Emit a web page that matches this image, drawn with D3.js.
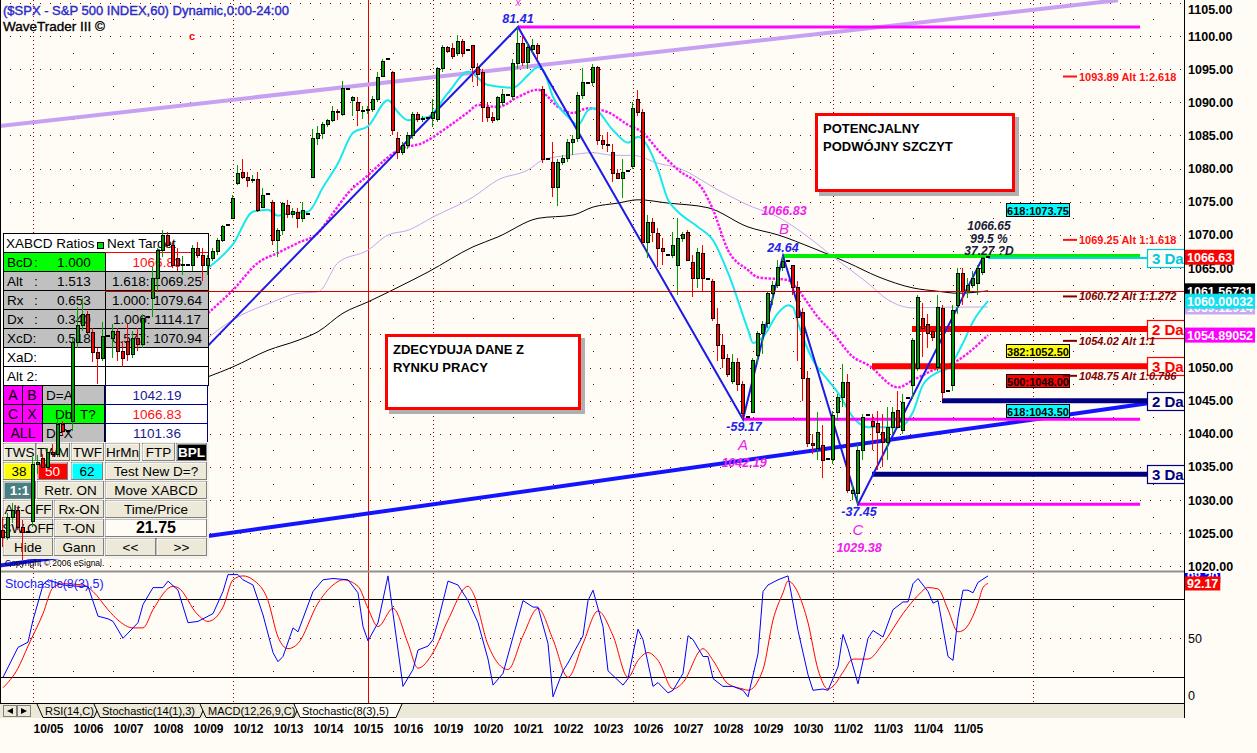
<!DOCTYPE html>
<html><head><meta charset="utf-8">
<script src="https://cdn.jsdelivr.net/npm/d3@7/dist/d3.min.js"></script>
<style>
html,body{margin:0;padding:0;background:#fffcf6;overflow:hidden}
svg{display:block}
text{font-family:Arial,"Liberation Sans",sans-serif}
</style></head>
<body><svg id="chart" width="1257" height="753"></svg>
<script>
// ================= DATA =================
const dayLabels = ["10/02","10/05","10/06","10/07","10/08","10/09","10/12","10/13","10/14","10/15","10/16","10/19","10/20","10/21","10/22","10/23","10/26","10/27","10/28","10/29","10/30","11/02","11/03","11/04","11/05"];
const futureDays = ["11/06","11/09","11/10","11/11","11/12"];
const slotsPerDay = 8;   // 7 hourly bars + 16:00 print
const firstSlot = 1;     // 10/02 starts with its 2nd slot on screen
// hourly bars [open, high, low, close]
const hourlyOHLC = [
 // 10/02
 [1024.5,1026.5,1023.5,1025.5],[1025.5,1027.5,1023.0,1024.5],[1024.5,1028.0,1024.0,1027.5],[1027.5,1029.5,1026.5,1028.5],[1028.5,1029.0,1025.5,1026.0],[1026.0,1027.0,1021.0,1025.2],[1025.2,1025.2,1025.2,1025.2],
 // 10/05
 [1026.9,1036.5,1025.9,1035.5],[1035.5,1036.8,1034.0,1035.8],[1036.3,1037.0,1034.5,1035.0],[1035.0,1037.8,1034.8,1037.3],[1037.3,1038.5,1036.5,1037.0],[1037.0,1042.6,1036.5,1041.5],[1041.5,1042.0,1039.8,1040.5],[1040.5,1040.5,1040.5,1040.5],
 // 10/06
 [1042.0,1054.5,1040.5,1053.8],[1053.8,1059.2,1053.0,1056.4],[1056.4,1060.5,1055.5,1058.0],[1058.0,1058.5,1055.0,1055.4],[1055.4,1056.0,1050.8,1052.3],[1052.3,1053.0,1047.5,1051.4],[1051.4,1056.8,1051.0,1054.7],[1054.7,1054.7,1054.7,1054.7],
 // 10/07
 [1054.5,1056.5,1051.5,1055.5],[1055.5,1056.0,1051.0,1052.5],[1052.5,1054.0,1050.1,1051.5],[1054.0,1056.5,1051.0,1052.0],[1052.0,1055.5,1051.5,1054.5],[1054.5,1056.0,1052.5,1053.5],[1053.5,1058.0,1053.0,1057.5],[1057.6,1057.6,1057.6,1057.6],
 // 10/08
 [1060.5,1065.2,1057.6,1063.5],[1063.5,1068.0,1061.5,1067.7],[1067.7,1070.7,1066.7,1070.0],[1070.0,1070.5,1068.0,1068.5],[1068.5,1069.0,1065.0,1065.5],[1066.5,1068.0,1064.5,1065.5],[1065.5,1066.8,1064.0,1065.6],[1065.5,1065.5,1065.5,1065.5],
 // 10/09
 [1065.5,1068.5,1064.5,1068.0],[1068.0,1069.0,1066.5,1067.0],[1067.0,1068.0,1063.0,1065.5],[1065.5,1067.0,1064.0,1066.5],[1066.5,1068.0,1066.0,1067.5],[1067.5,1069.5,1067.0,1069.2],[1069.2,1071.5,1069.0,1071.4],[1071.5,1071.5,1071.5,1071.5],
 // 10/12
 [1072.5,1076.0,1072.5,1075.5],[1077.8,1080.5,1077.5,1079.3],[1079.5,1081.4,1078.5,1078.8],[1078.8,1079.5,1077.3,1078.3],[1078.3,1079.0,1077.8,1078.5],[1078.5,1079.5,1073.5,1073.8],[1074.2,1077.0,1074.0,1076.0],[1076.2,1076.2,1076.2,1076.2],
 // 10/13
 [1075.0,1075.3,1068.5,1069.2],[1069.2,1071.0,1066.7,1070.7],[1070.7,1075.0,1070.0,1074.8],[1074.5,1075.3,1072.5,1073.2],[1073.2,1074.0,1072.5,1073.6],[1073.5,1074.0,1071.0,1072.6],[1072.6,1075.0,1072.0,1073.8],[1073.2,1073.2,1073.2,1073.2],
 // 10/14
 [1078.7,1086.0,1078.7,1084.6],[1084.6,1086.5,1083.5,1085.3],[1085.3,1087.0,1084.5,1086.8],[1086.8,1087.5,1086.3,1087.3],[1087.3,1089.4,1087.0,1088.7],[1088.7,1089.0,1087.4,1088.5],[1088.3,1093.2,1088.0,1092.2],[1092.0,1092.0,1092.0,1092.0],
 // 10/15
 [1090.4,1091.0,1088.0,1090.8],[1090.0,1090.8,1086.5,1088.8],[1088.8,1089.5,1087.5,1088.9],[1088.9,1089.5,1088.3,1089.0],[1089.0,1091.0,1088.5,1090.5],[1090.5,1094.5,1090.0,1093.8],[1094.0,1096.5,1093.8,1096.2],[1096.5,1096.5,1096.5,1096.5],
 // 10/16
 [1094.6,1094.7,1085.0,1085.8],[1084.6,1085.5,1081.5,1082.5],[1082.5,1084.0,1082.0,1083.5],[1083.5,1085.5,1083.0,1085.0],[1085.0,1088.5,1084.5,1088.3],[1088.3,1088.6,1087.0,1087.5],[1087.5,1088.0,1087.0,1087.7],[1087.7,1087.7,1087.7,1087.7],
 // 10/19
 [1087.7,1090.5,1086.2,1088.5],[1087.5,1095.3,1087.0,1095.2],[1095.2,1098.6,1094.5,1098.3],[1098.3,1098.5,1097.5,1097.8],[1098.2,1099.0,1096.5,1097.0],[1097.5,1100.2,1097.0,1099.2],[1099.2,1099.5,1096.8,1097.5],[1097.9,1097.9,1097.9,1097.9],
 // 10/20
 [1098.6,1098.6,1093.0,1095.3],[1095.3,1096.0,1092.5,1094.2],[1094.6,1095.0,1087.0,1089.3],[1089.3,1090.0,1087.0,1087.8],[1087.8,1088.5,1086.9,1087.3],[1087.5,1091.0,1087.2,1090.8],[1090.0,1092.0,1089.5,1091.3],[1091.1,1091.1,1091.1,1091.1],
 // 10/21
 [1091.0,1096.5,1090.3,1095.9],[1096.0,1101.4,1095.0,1099.0],[1099.0,1100.0,1095.5,1096.1],[1096.1,1099.0,1095.0,1098.3],[1098.0,1099.5,1097.5,1098.7],[1098.7,1099.0,1096.5,1097.5],[1092.0,1092.5,1080.8,1081.4],[1081.4,1081.4,1081.4,1081.4],
 // 10/22
 [1081.0,1084.0,1075.7,1077.2],[1077.2,1081.5,1074.3,1081.0],[1081.0,1082.0,1080.5,1081.6],[1081.6,1084.5,1081.0,1084.0],[1084.0,1085.0,1082.0,1084.5],[1084.6,1091.5,1084.0,1091.1],[1091.1,1095.2,1090.5,1093.0],[1092.9,1092.9,1092.9,1092.9],
 // 10/23
 [1093.0,1095.8,1092.5,1095.3],[1095.3,1095.5,1083.5,1084.3],[1084.3,1085.0,1083.0,1083.7],[1083.7,1085.5,1082.5,1083.5],[1082.5,1083.7,1078.0,1079.3],[1079.3,1080.0,1078.5,1078.6],[1078.6,1081.5,1075.5,1079.5],[1079.6,1079.6,1079.6,1079.6],
 // 10/26
 [1080.4,1090.0,1080.0,1089.1],[1090.5,1091.8,1088.0,1088.5],[1088.5,1089.0,1068.5,1069.0],[1069.0,1073.0,1066.5,1072.0],[1072.0,1072.5,1069.0,1070.5],[1070.3,1071.0,1065.2,1068.0],[1068.0,1069.5,1065.5,1067.5],[1067.0,1067.0,1067.0,1067.0],
 // 10/27
 [1067.0,1070.5,1066.5,1068.5],[1065.5,1072.5,1061.0,1069.5],[1069.5,1070.5,1069.0,1070.2],[1070.4,1070.8,1066.0,1066.2],[1065.9,1067.0,1060.6,1063.5],[1063.5,1068.0,1062.0,1067.4],[1067.2,1068.5,1061.5,1063.5],[1063.4,1063.4,1063.4,1063.4],
 // 10/28
 [1063.0,1063.3,1057.0,1057.5],[1056.5,1059.0,1051.0,1053.4],[1053.4,1055.0,1050.0,1051.5],[1051.5,1052.0,1048.5,1049.0],[1048.0,1052.0,1047.5,1050.8],[1050.8,1051.5,1046.5,1047.5],[1047.5,1048.0,1042.2,1043.1],[1042.6,1042.6,1042.6,1042.6],
 // 10/29
 [1043.3,1051.5,1043.1,1051.1],[1051.9,1055.5,1050.5,1055.2],[1055.2,1057.0,1052.0,1056.5],[1056.7,1061.5,1056.0,1061.2],[1061.2,1063.0,1059.5,1062.5],[1062.5,1066.2,1062.0,1065.2],[1065.2,1066.8,1064.5,1066.1],[1066.1,1066.1,1066.1,1066.1],
 // 10/30
 [1065.4,1065.4,1061.0,1062.1],[1062.1,1063.0,1051.0,1057.6],[1058.4,1059.0,1045.0,1048.4],[1048.4,1049.5,1038.0,1038.6],[1038.6,1040.0,1037.0,1038.3],[1037.9,1043.3,1036.0,1040.3],[1038.3,1041.3,1033.4,1036.0],[1036.2,1036.2,1036.2,1036.2],
 // 11/02
 [1036.2,1043.5,1035.5,1042.8],[1043.3,1046.0,1042.0,1045.5],[1045.5,1050.5,1044.0,1047.8],[1047.8,1049.0,1031.0,1031.5],[1031.0,1032.5,1030.0,1031.6],[1031.0,1038.5,1029.4,1037.6],[1037.6,1043.0,1036.0,1042.5],[1042.9,1042.9,1042.9,1042.9],
 // 11/03
 [1042.0,1043.0,1037.5,1041.2],[1041.6,1043.5,1034.5,1040.3],[1040.3,1043.0,1035.0,1038.8],[1038.8,1044.0,1036.0,1041.0],[1041.0,1044.0,1040.0,1043.3],[1043.6,1046.5,1041.0,1041.1],[1040.6,1046.0,1040.0,1044.8],[1045.4,1045.4,1045.4,1045.4],
 // 11/04
 [1047.3,1054.5,1045.2,1054.1],[1050.0,1061.0,1049.5,1060.6],[1057.4,1059.7,1051.6,1056.0],[1056.6,1058.0,1053.0,1055.2],[1055.5,1056.0,1054.0,1054.6],[1050.1,1061.0,1049.5,1059.1],[1059.0,1059.5,1045.2,1046.3],[1046.5,1046.5,1046.5,1046.5],
 // 11/05
 [1047.3,1059.5,1046.5,1058.7],[1059.5,1065.0,1058.0,1064.3],[1064.3,1065.0,1059.5,1061.5],[1061.5,1063.5,1060.5,1062.5],[1062.5,1064.5,1062.0,1063.5],[1062.7,1065.5,1061.0,1065.0],[1064.4,1066.7,1064.0,1066.5],[1066.63,1066.63,1066.63,1066.63]
];
// moving averages: [bar, price]  (bar 0 = 10/05 first hour)
const maFast = [[35,1065.0],[40,1068.6],[44,1073.5],[47,1073.8],[49,1072.9],[51,1073.2],[55,1073.5],[58,1077.2],[61,1080.8],[64,1085.4],[67,1086.4],[71,1090.3],[73,1088.5],[75,1087.3],[79,1087.8],[83,1091.4],[87,1094.6],[91,1092.6],[96,1092.2],[99,1094.1],[101,1095.3],[102,1094.9],[104,1090.8],[107,1087.8],[109,1086.6],[111,1088.8],[112,1089.1],[116,1085.8],[119,1083.9],[121,1084.8],[123,1083.3],[125,1079.8],[127,1075.3],[129,1073.5],[133,1071.2],[136,1069.2],[139,1064.3],[143,1055.7],[144,1053.7],[146,1054.6],[149,1058.2],[151,1059.4],[152,1059.1],[153,1056.7],[156,1051.1],[159,1048.1],[161,1046.2],[164,1042.5],[167,1041.0],[173,1041.0],[176,1043.3],[178,1047.4],[181,1049.3],[183,1049.9],[186,1053.7],[188,1056.9],[191,1060.0]];
const maMid = [[35,1058.2],[40,1061.7],[45,1065.8],[49,1067.3],[53,1068.8],[57,1070.3],[60,1073.3],[63,1076.3],[67,1079.0],[71,1081.7],[73,1082.8],[78,1083.9],[83,1086.3],[87,1088.5],[89,1089.6],[93,1089.3],[97,1090.8],[101,1091.9],[103,1090.8],[105,1089.3],[108,1088.4],[111,1089.1],[115,1088.5],[119,1086.6],[122,1085.4],[125,1082.8],[129,1079.8],[134,1076.8],[136,1073.8],[139,1067.7],[143,1064.7],[145,1063.6],[151,1063.2],[153,1061.7],[157,1057.6],[160,1055.2],[164,1051.6],[167,1050.4],[173,1047.0],[176,1048.1],[180,1049.6],[185,1051.1],[191,1054.89]];
const maSlow = [[35,1054.5],[40,1057.2],[48,1059.9],[53,1061.2],[57,1061.4],[61,1065.8],[67,1067.7],[71,1070.0],[75,1070.7],[80,1072.7],[88,1075.7],[93,1078.3],[99,1079.8],[102,1081.3],[107,1082.0],[112,1082.4],[116,1082.0],[120,1082.0],[125,1080.8],[129,1080.1],[137,1076.8],[143,1074.5],[149,1072.7],[155,1069.7],[160,1066.7],[167,1062.7],[171,1060.2],[176,1059.0],[183,1059.1],[191,1059.13]];
const maLong = [[35,1048.6],[40,1050.1],[47,1052.6],[53,1054.1],[57,1055.4],[62,1058.2],[67,1059.9],[73,1062.1],[79,1064.4],[88,1068.2],[93,1069.7],[101,1072.5],[108,1073.0],[112,1074.2],[117,1074.8],[121,1075.3],[127,1074.8],[135,1074.1],[143,1071.2],[149,1070.0],[156,1068.0],[163,1065.8],[169,1063.7],[176,1062.0],[181,1061.5],[185,1061.2],[191,1061.57]];
// Stochastic(8(3),5): [bar, value]
const stochK = [[-6,20],[-3,43],[-1,47],[0,64],[2,91],[3,95],[6,91],[9,90],[11,90],[13,67],[15,65],[16,63],[18,50],[20,58],[21,62],[22,76],[24,89],[26,89],[27,94],[29,87],[31,62],[33,63],[34,65],[36,69],[38,86],[39,99],[41,99],[42,95],[44,91],[46,68],[48,39],[49,32],[50,36],[52,58],[53,55],[56,86],[58,95],[60,96],[63,95],[65,85],[66,59],[67,48],[69,62],[71,98],[72,69],[74,13],[76,26],[77,41],[79,44],[80,49],[81,63],[83,94],[85,91],[87,79],[89,62],[91,34],[92,14],[94,23],[98,79],[100,74],[101,74],[103,46],[104,5],[106,25],[107,31],[110,52],[111,79],[112,87],[114,59],[115,25],[118,14],[119,19],[121,57],[122,49],[124,13],[125,16],[127,8],[128,10],[130,23],[131,52],[132,49],[134,36],[135,36],[136,19],[138,13],[140,13],[142,10],[143,5],[145,38],[146,86],[147,91],[149,95],[151,98],[153,56],[155,22],[156,10],[158,11],[159,10],[161,28],[162,53],[163,42],[165,15],[167,50],[168,56],[170,51],[172,72],[174,78],[175,78],[176,92],[177,96],[179,86],[180,77],[181,79],[183,36],[184,33],[185,66],[186,87],[187,87],[188,85],[189,93],[191,98]];
const stochD = [[-6,12],[-3,27],[-1,44],[2,69],[4,89],[6,92],[10,91],[12,86],[15,72],[17,64],[20,58],[22,58],[24,72],[28,90],[29,89],[33,68],[35,63],[38,74],[40,95],[42,98],[44,95],[47,79],[49,51],[51,42],[53,46],[57,77],[60,91],[62,95],[65,90],[67,73],[69,59],[72,73],[75,46],[77,27],[80,39],[83,64],[87,90],[88,85],[91,45],[95,26],[98,52],[101,73],[104,49],[107,20],[110,46],[113,71],[116,52],[119,20],[121,33],[123,39],[125,33],[128,11],[130,16],[134,42],[136,33],[139,15],[142,11],[143,10],[146,26],[148,64],[150,85],[151,94],[153,85],[155,62],[157,26],[159,11],[160,13],[162,24],[164,34],[167,34],[170,46],[174,69],[177,83],[179,89],[181,88],[183,72],[185,55],[186,56],[189,77],[190,89],[191,92.17]];
const priceTicks = [1020,1025,1030,1035,1040,1045,1050,1055,1060,1065,1070,1075,1080,1085,1090,1095,1100,1105];
const stochTicks = [0,50];
const stochLevels = [20,80];
// XABCD pattern: [name, bar, price]
const patternPoints = [["",-6,1021.5],["X",97,1101.36],["A",142,1042.19],["B",150,1066.83],["C",165,1029.38],["D",190,1066.65]];
const swingNames = ["X","A","B","C"];
const swingValues = ["81.41","-59.17","24.64","-37.45"];
const swingPrices = ["","1042.19","1066.83","1029.38"];
const dPointTexts = ["1066.65","99.5 %","37.27 ?D"];
// trendlines [kind, bar1, price1, bar2, price2]
const trendLines = [["upper",-7,1086.4,217,1105.4],["lower",-7,1020.1,223,1044.6]];
// horizontal levels [kind, price, fromBar, toBar, tag]
const levelLines = [["X",1101.36,97,221.4,""],["B",1066.83,150,221.4,""],["A",1042.19,142,221.4,""],["C",1029.38,165,221.4,""],["cur",1066.5,191,222.8,"3 Day"],["red",1055.8,175.8,222.8,"2 Day"],["red",1050.2,167.8,222.8,"3 Day"],["navy",1045.0,181.8,222.8,"2 Day"],["navy",1033.9,167.8,222.8,"3 Day"]];
const fibBoxes = [["618",1073.75,"cyan"],["382",1052.50,"yellow"],["500",1048.00,"red"],["618",1043.50,"cyan"]];
const altTargets = [[1093.89,"Alt 1:2.618","ext"],[1069.25,"Alt 1:1.618","ext"],[1060.72,"Alt 1:1.272","alt"],[1054.02,"Alt 1:1","alt"],[1048.75,"Alt 1:0.786","alt"]];
const lastValues = [[1059.12914,"slow"],[1061.56731,"long"],[1060.00032,"fast"],[1054.89052,"mid"],[1066.63,"close"]];
const stochLast = [[98.2,"k"],[92.17,"d"]];
const markerBar = 67;
const notes = [["POTENCJALNY","PODWÓJNY SZCZYT"],["ZDECYDUJA DANE Z","RYNKU PRACY"]];
const ratioLabels = ["BcD","Alt","Rx","Dx","XcD:","XaD:","Alt 2:"];
const ratioValues = ["1.000","1.513","0.653","0.340","0.518","",""];
const ratioTargets = ["1066.83","1.618: 1069.25","1.000: 1079.64","1.000: 1114.17","0.577: 1070.94","",""];
const pointTargets = ["1042.19","1066.83","1101.36"];
const tabLabels = ["RSI(14,C)","Stochastic(14(1),3)","MACD(12,26,9,C)","Stochastic(8(3),5)"];

// ================= SCALES =================
const svg = d3.select("#chart");
const xS = d3.scaleLinear().domain([-6.6, 230.2]).range([0, 1184]);
const yS = d3.scaleLinear().domain([1019.46, 1105.43]).range([570, 0]);
const sS = d3.scaleLinear().domain([0, 100]).range([703.3, 573.3]);
const barN = i => i + firstSlot - slotsPerDay;
const dayN = k => (k - 1) * slotsPerDay; // first bar of day k (k index in dayLabels)

const defs = svg.append("defs");
function clip(id,x,y,w,h){defs.append("clipPath").attr("id",id).append("rect").attr("x",x).attr("y",y).attr("width",w).attr("height",h);}
clip("cMain",0,0,1184,571); clip("cStoch",0,573,1184,130); clip("cAxis",1185,0,72,571); clip("cStAxis",1185,573,72,130);

function T(g,x,y,s,o){o=o||{};return g.append("text").attr("x",x).attr("y",y).text(s)
 .attr("font-size",o.size||13).attr("font-weight",o.weight||"normal").attr("font-style",o.style||"normal")
 .attr("fill",o.fill||"#000").attr("text-anchor",o.anchor||"start");}
function R(g,x,y,w,h,fill,stroke,sw){return g.append("rect").attr("x",x).attr("y",y).attr("width",w).attr("height",h)
 .attr("fill",fill||"none").attr("stroke",stroke||"none").attr("stroke-width",sw||1);}
function L(g,x1,y1,x2,y2,c,w,dash){const l=g.append("line").attr("x1",x1).attr("y1",y1).attr("x2",x2).attr("y2",y2).attr("stroke",c).attr("stroke-width",w||1);if(dash)l.attr("stroke-dasharray",dash);return l;}

const BG = "#fffcf6";
R(svg,0,0,1257,753,BG);

// ================= GRID =================
const allDays = dayLabels.concat(futureDays);
const dayInfo = allDays.map((lab,k)=>{const [m,d]=lab.split("/").map(Number);return {k, lab, n:dayN(k), monday:new Date(2009,m-1,d).getDay()===1};}).filter(d=>d.k>=1);
const grid = svg.append("g").attr("clip-path","url(#cMain)");
priceTicks.forEach(p=>L(grid,0,Math.round(yS(p))+0.5,1184,Math.round(yS(p))+0.5,"#8b0000",1,"1,9"));
dayInfo.forEach(d=>{
  const x = Math.round(xS(d.n))+0.5;
  if (d.monday) L(grid,x,0,x,571,"#8b0000",1,"1,3");
  else priceTicks.filter(p=>p<1105).forEach(p=>R(grid,x-0.5,Math.round(yS(p+2.5)),1,1,"#8b0000"));
});
const sgrid = svg.append("g").attr("clip-path","url(#cStoch)");
L(sgrid,0,Math.round(sS(50))+0.5,1184,Math.round(sS(50))+0.5,"#8b0000",1,"1,9");
dayInfo.forEach(d=>{
  const x = Math.round(xS(d.n))+0.5;
  if (d.monday) L(sgrid,x,573,x,703,"#8b0000",1,"1,3");
  else [25,75].forEach(v=>R(sgrid,x-0.5,Math.round(sS(v)),1,1,"#8b0000"));
});
stochLevels.forEach(v=>L(sgrid,0,Math.round(sS(v))+0.5,1184,Math.round(sS(v))+0.5,"#000",1));
// marker vertical
L(svg,Math.round(xS(markerBar))+0.5,0,Math.round(xS(markerBar))+0.5,703,"#e00000",1);

// ================= MAIN PLOT LINES =================
const main = svg.append("g").attr("clip-path","url(#cMain)");
trendLines.forEach(t=>{
  L(main,xS(t[1]),yS(t[2]),xS(t[3]),yS(t[4]), t[0]==="upper"?"#c8a0f2":"#1414ff", 4);
});
const maLine = d3.line().x(d=>xS(d[0])).y(d=>yS(d[1])).curve(d3.curveMonotoneX);
main.append("path").attr("d",maLine(maSlow)).attr("fill","none").attr("stroke","#c4a8f0").attr("stroke-width",1);
main.append("path").attr("d",maLine(maLong)).attr("fill","none").attr("stroke","#000").attr("stroke-width",1);
main.append("path").attr("d",maLine(maMid)).attr("fill","none").attr("stroke","#ff10ff").attr("stroke-width",2.4).attr("stroke-dasharray","2.5,1.5");
main.append("path").attr("d",maLine(maFast)).attr("fill","none").attr("stroke","#18e8f0").attr("stroke-width",2);

const levelStyle = {X:["#ff00ff",3],B:["#00ee00",4],A:["#ff00ff",3],C:["#ff00ff",3],cur:["#00d8e8",2],red:["#ff0000",6],navy:["#000080",5]};
levelLines.forEach(l=>{
  const st = levelStyle[l[0]];
  L(main,xS(l[2]),yS(l[1]),xS(l[3]),yS(l[1]),st[0],st[1]);
});
const zig = d3.line().x(d=>xS(d[1])).y(d=>yS(d[2]));
main.append("path").attr("d",zig(patternPoints)).attr("fill","none").attr("stroke","#1c1ce8").attr("stroke-width",2);

// ================= LEFT TABLE =================
const tb = svg.append("g");
const TL=3, TM=105, TR=208;
R(tb,TL+0.5,233.5,TR-TL,19,"#fff","#000");
T(tb,6,247.5,"XABCD Ratios",{size:13.5});
R(tb,97.5,242.5,6,6,"#00dd00","#000");
T(tb,107,247.5,"Next Target",{size:13.5});
ratioLabels.forEach((lab,i)=>{
  const y = 252 + i*19;
  const lf = i===0?"#00ff00":(i<=4?"#c0c0c0":"#fff");
  const rf = i===0?"#fff":(i<=4?"#c0c0c0":"#fff");
  R(tb,TL+0.5,y+0.5,TM-TL,19,lf,"#000");
  R(tb,TM+0.5,y+0.5,TR-TM,19,rf,"#000");
  T(tb,7,y+15,lab,{size:13.5});
  if (i<4) T(tb,34,y+15,":",{size:13.5});
  T(tb,57,y+15,ratioValues[i],{size:13.5});
  T(tb,157,y+15,ratioTargets[i],{size:13.5,anchor:"middle",fill:i===0?"#ff1010":"#000"});
});
L(tb,TM,252.5,TR,252.5,"#ff0000",1);
const prow = [385,404,423];
// row A B
R(tb,3.5,385.5,19,19,"#ff00ff","#000"); R(tb,22.5,385.5,20,19,"#ff00ff","#000");
T(tb,13,400,"A",{size:14,anchor:"middle"}); T(tb,32,400,"B",{size:14,anchor:"middle"});
R(tb,42.5,385.5,62,19,"#c0c0c0","#000"); T(tb,46,400,"D=A",{size:13.5});
// row C X
R(tb,3.5,404.5,19,19,"#ff00ff","#000"); R(tb,22.5,404.5,20,19,"#ff00ff","#000");
T(tb,13,419,"C",{size:14,anchor:"middle"}); T(tb,32,419,"X",{size:14,anchor:"middle"});
R(tb,42.5,404.5,62,19,"#00ff00","#000"); T(tb,55,419,"Db",{size:13.5}); T(tb,80,419,"T?",{size:13.5});
// row ALL
R(tb,3.5,423.5,39,19,"#ff00ff","#000"); T(tb,23,438,"ALL",{size:14,anchor:"middle"});
R(tb,42.5,423.5,62,19,"#c0c0c0","#000"); T(tb,46,438,"D=X",{size:13.5});
pointTargets.forEach((s,i)=>{
  R(tb,TM+0.5,prow[i]+0.5,TR-TM-1,19,"#fff","#000080");
  T(tb,157,prow[i]+15,s,{size:13.5,anchor:"middle",fill:i===1?"#ff1010":"#1a1a8c"});
});
// buttons
const btnRows = [
 [443,[["TWS",3,36],["TWM",36,70],["TWF",71,104],["HrMn",105,140],["FTP",142,175],["BPL",176,207,"#000","#fff",true]]],
 [462,[["38",3,35,"#ffff00"],["50",37,68,"#ff0000","#fff"],["62",71,103,"#00ffff"],["Test New D=?",105,207]]],
 [481,[["1:1",3,36,"#4a7f84","#fff",true],["Retr. ON",37,104],["Move XABCD",105,207]]],
 [500,[["Alt-OFF",3,53],["Rx-ON",54,104],["Time/Price",105,207]]],
 [519,[["SW.OFF",3,53],["T-ON",54,104],["21.75",105,207,"#fffcf6","#000",true,16]]],
 [538,[["Hide",3,53],["Gann",54,104],["<<",105,156],[">>",156,207]]]
];
R(tb,2,442,207,117,"#f4f2ea");
btnRows.forEach(([y,btns])=>{
  btns.forEach(b=>{
    const [lab,x0,x1,fill,tc,bold,fs] = b;
    R(tb,x0+0.5,y+0.5,x1-x0-1,17,fill||"#ece9d8","#808080");
    L(tb,x0+1,y+1,x1-1,y+1,"#fff",1); L(tb,x0+1,y+1,x0+1,y+17,"#fff",1);
    T(tb,(x0+x1)/2,y+14,lab,{size:fs||13.5,anchor:"middle",fill:tc||"#000",weight:bold?"bold":"normal"});
  });
});
T(tb,5,566,"Copyright © 2006 eSignal.",{size:8.5});

// ================= CANDLES =================
const cg = svg.append("g").attr("clip-path","url(#cMain)").attr("shape-rendering","crispEdges");
const bars = hourlyOHLC.map((b,i)=>({n:barN(i),o:b[0],h:b[1],l:b[2],c:b[3]}));
bars.forEach(b=>{
  const x = xS(b.n);
  if (b.h===b.l){ R(cg,x-2,Math.round(yS(b.c))-1,4,2,"#000"); return; }
  const up = b.c>=b.o;
  L(cg,x-0.5,yS(b.h),x-0.5,yS(b.l),up?"#00a000":"#ff0000",1);
  const top = Math.round(yS(Math.max(b.o,b.c))), bot = Math.round(yS(Math.min(b.o,b.c)));
  R(cg,x-1.5,top+0.5,3,Math.max(1,bot-top),up?"#009a00":"#ff0000","#000",1);
});
// red horizontal (long MA price line)
L(svg,TM,Math.round(yS(maLong[maLong.length-1][1]))+0.5,1184,Math.round(yS(maLong[maLong.length-1][1]))+0.5,"#d00000",1);

// ================= ANNOTATIONS =================
const an = svg.append("g").attr("clip-path","url(#cMain)");
const ptBy = {}; patternPoints.forEach(p=>ptBy[p[0]]=p);
const MAG="#ee22ee", BLU="#2424e8";
swingNames.forEach((nm,i)=>{
  const p = ptBy[nm], x = xS(p[1]), y = yS(p[2]);
  const below = (nm==="A"||nm==="C");
  if (below){
    T(an,x+1,y+12,swingValues[i],{size:12.5,weight:"bold",style:"italic",fill:BLU,anchor:"middle"});
    T(an,x,y+31,nm,{size:15,style:"italic",fill:MAG,anchor:"middle"});
    T(an,x+1,y+48,swingPrices[i],{size:12.5,weight:"bold",style:"italic",fill:MAG,anchor:"middle"});
  } else if (nm==="B") {
    T(an,x,y-4,swingValues[i],{size:12.5,weight:"bold",style:"italic",fill:BLU,anchor:"middle"});
    T(an,x+1,y-22,nm,{size:15,style:"italic",fill:MAG,anchor:"middle"});
    T(an,x+1,y-41,swingPrices[i],{size:12.5,weight:"bold",style:"italic",fill:MAG,anchor:"middle"});
  } else {
    T(an,x,y-4,swingValues[i],{size:12.5,weight:"bold",style:"italic",fill:BLU,anchor:"middle"});
    T(an,x,6,nm.toLowerCase(),{size:10,style:"italic",fill:MAG,anchor:"middle"});
  }
});
const dp = ptBy["D"];
dPointTexts.forEach((s,i)=>T(an,xS(dp[1])+6,yS(dp[2])-27+i*12.5,s,{size:12,weight:"bold",style:"italic",fill:"#1a1a3a",anchor:"middle"}));
T(an,192,40,"c",{size:11,weight:"bold",fill:"#ff0000",anchor:"middle"});

// level tags
const tagStyle = {cur:"#00c8e0",red:"#ff0000",navy:"#000080"};
levelLines.filter(l=>l[4]).forEach(l=>{
  const c = tagStyle[l[0]], y = Math.round(yS(l[1]));
  R(an,1147.5,y-8.5,45,18,BG,c,1.2);
  T(an,1152,y+6,l[4],{size:15,weight:"bold",fill:c});
});
// fib boxes
const fibFill = {cyan:"#00ffff",yellow:"#ffff00",red:"#ff0000"};
fibBoxes.forEach(f=>{
  const y = Math.round(yS(f[1]));
  R(an,1006.5,y-6.5,63,13,fibFill[f[2]],"#000",1);
  T(an,1038,y+4.5,f[0]+":"+f[1].toFixed(2),{size:11,weight:"bold",anchor:"middle"});
});
// alt targets
altTargets.forEach(a=>{
  const y = yS(a[0]); const c = a[2]==="ext"?"#ff1010":"#800000";
  L(an,1063,y,1077,y,c,2);
  T(an,1079,y+4,a[0].toFixed(2)+" "+a[1],{size:11,weight:"bold",style:a[2]==="ext"?"normal":"italic",fill:c});
});
// note boxes
const noteBoxes = [[815,113,200,79],[385,334,196,76]];
notes.forEach((lines,i)=>{
  const [x,y,w,h] = noteBoxes[i];
  R(an,x+4,y+4,w,h,"#b0b0b0");
  R(an,x+1.5,y+1.5,w-3,h-3,"#fff","#ff0000",3);
  lines.forEach((s,j)=>T(an,x+8,y+20+j*18,s,{size:13,weight:"bold"}));
});

// ================= AXES =================
L(svg,1184.5,0,1184.5,718,"#000",1);
L(svg,0,571.5,1184,571.5,"#909090",2);
L(svg,0.5,0,0.5,703,"#000",1);
const yAxis = d3.axisRight(yS).tickValues(priceTicks).tickFormat(d3.format(".2f")).tickSize(0).tickPadding(4);
const ax = svg.append("g").attr("transform","translate(1184,0)").call(yAxis);
ax.select(".domain").remove();
ax.selectAll("text").attr("font-size",12.5).attr("font-weight","bold").attr("fill","#000").attr("font-family","Arial, 'Liberation Sans', sans-serif");
ax.selectAll(".tick").filter(d=>yS(d)<10).select("text").attr("y",7);
// last value boxes
const valStyle = {slow:"#c8a8f0",long:"#000",fast:"#10e0f0",mid:"#ff00ff",close:"#ff0000"};
const vg = svg.append("g").attr("clip-path","url(#cAxis)");
lastValues.forEach(v=>{
  const y = yS(v[0]);
  const rect = R(vg,1185,y-7.5,72,15,valStyle[v[1]]);
  const t = T(vg,1187,y+5,String(v[0]),{size:12.5,weight:"bold",fill:"#fff"});
  rect.attr("width", t.node().getComputedTextLength()+4);
});
// stochastic
const st = svg.append("g").attr("clip-path","url(#cStoch)");
st.append("path").attr("d",d3.line().x(d=>xS(d[0])).y(d=>sS(d[1])).curve(d3.curveMonotoneX)(stochD)).attr("fill","none").attr("stroke","#ff0000").attr("stroke-width",1);
st.append("path").attr("d",d3.line().x(d=>xS(d[0])).y(d=>sS(d[1]))(stochK)).attr("fill","none").attr("stroke","#0000ff").attr("stroke-width",1);
T(svg,5,588,"Stochastic(8(3),5)",{size:12.5,fill:"#2020ff"});
L(svg,0,703.5,1184,703.5,"#000",1);
const sAxis = d3.axisRight(sS).tickValues(stochTicks).tickFormat(d3.format("d")).tickSize(0).tickPadding(4);
const sax = svg.append("g").attr("transform","translate(1184,0)").call(sAxis);
sax.select(".domain").remove();
sax.selectAll("text").attr("font-size",12.5).attr("fill","#000").attr("font-family","Arial, 'Liberation Sans', sans-serif");
sax.selectAll(".tick").filter(d=>d===0).select("text").attr("y",-8);
const sv = svg.append("g").attr("clip-path","url(#cStAxis)");
stochLast.forEach(v=>{
  const y = sS(v[0]);
  const rect = R(sv,1185,y-7,72,14,v[1]==="k"?"#0000ff":"#ff0000");
  const t = T(sv,1187,y+5,v[0].toFixed(2),{size:12.5,weight:"bold",fill:"#fff"});
  rect.attr("width", t.node().getComputedTextLength()+4);
});

// ================= BOTTOM: TABS + DATES =================
const bt = svg.append("g");
R(bt,0,704,1184,14,"#ece9d8");
R(bt,3.5,705.5,13,11,"#ece9d8","#808080"); R(bt,17.5,705.5,13,11,"#ece9d8","#808080");
bt.append("path").attr("d","M13,708 L7,711 L13,714 Z").attr("fill","#000");
bt.append("path").attr("d","M21,708 L27,711 L21,714 Z").attr("fill","#000");
const tabX = [[37,94],[94,200],[200,294],[294,396]];
tabLabels.forEach((s,i)=>{
  const [a,b] = tabX[i]; const active = i===tabLabels.length-1;
  bt.append("path").attr("d",`M${a},704 L${a+6},717.5 L${b},717.5 L${b+6},704`).attr("fill",active?"#fffcf6":"#ece9d8").attr("stroke","#000").attr("stroke-width",1);
  T(bt,a+8,715,s,{size:11});
});
const xAxis = d3.axisBottom(xS).tickValues(dayInfo.filter(d=>d.k<dayLabels.length).map(d=>d.n+3)).tickFormat((d,i)=>dayLabels[i+1]).tickSize(0).tickPadding(6);
const xa = svg.append("g").attr("transform","translate(0,718)").call(xAxis);
xa.select(".domain").remove();
xa.selectAll("text").attr("font-size",12).attr("font-weight","bold").attr("fill","#000").attr("font-family","Arial, 'Liberation Sans', sans-serif");

// ================= HEADER =================
T(svg,3,15,"($SPX - S&P 500 INDEX,60) Dynamic,0:00-24:00",{size:13,fill:"#2a2ac8"}).attr("stroke","#2a2ac8").attr("stroke-width",0.4);
T(svg,3,31,"WaveTrader III ©",{size:13.5}).attr("stroke","#000").attr("stroke-width",0.35);
</script></body></html>
